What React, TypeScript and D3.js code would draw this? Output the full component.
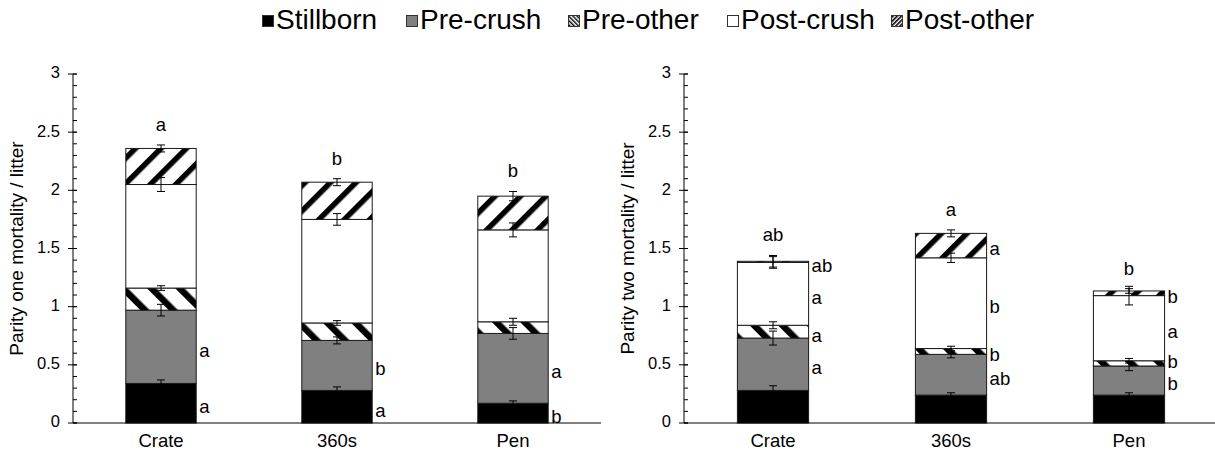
import React from "react";
import * as d3 from "d3";

// ---------- data ----------
const categories = ["Crate", "360s", "Pen"];
const seriesNames = ["Stillborn", "Pre-crush", "Pre-other", "Post-crush", "Post-other"];
const yTicks = [0, 0.5, 1, 1.5, 2, 2.5, 3];
const yTickLabels = ["0", "0.5", "1", "1.5", "2", "2.5", "3"];

// Parity one
const p1Stillborn = [0.34, 0.28, 0.17];
const p1PreCrush = [0.63, 0.43, 0.6];
const p1PreOther = [0.19, 0.15, 0.1];
const p1PostCrush = [0.89, 0.89, 0.79];
const p1PostOther = [0.31, 0.32, 0.29];
const p1StillbornErr = [0.03, 0.03, 0.02];
const p1PreCrushErr = [0.05, 0.03, 0.05];
const p1PreOtherErr = [0.02, 0.02, 0.03];
const p1PostCrushErr = [0.06, 0.05, 0.06];
const p1PostOtherErr = [0.03, 0.03, 0.04];
const p1TotalLetters = ["a", "b", "b"];
const p1StillbornLetters = ["a", "a", "b"];
const p1PreCrushLetters = ["a", "b", "a"];
const p1PreOtherLetters = ["", "", ""];
const p1PostCrushLetters = ["", "", ""];
const p1PostOtherLetters = ["", "", ""];

// Parity two
const p2Stillborn = [0.28, 0.24, 0.24];
const p2PreCrush = [0.45, 0.35, 0.25];
const p2PreOther = [0.11, 0.05, 0.045];
const p2PostCrush = [0.54, 0.78, 0.56];
const p2PostOther = [0.01, 0.21, 0.04];
const p2StillbornErr = [0.04, 0.02, 0.02];
const p2PreCrushErr = [0.06, 0.03, 0.04];
const p2PreOtherErr = [0.03, 0.02, 0.02];
const p2PostCrushErr = [0.05, 0.04, 0.08];
const p2PostOtherErr = [0.05, 0.03, 0.02];
const p2TotalLetters = ["ab", "a", "b"];
const p2StillbornLetters = ["", "", ""];
const p2PreCrushLetters = ["a", "ab", "b"];
const p2PreOtherLetters = ["a", "b", "b"];
const p2PostCrushLetters = ["a", "b", "a"];
const p2PostOtherLetters = ["ab", "a", "b"];

// ---------- styles ----------
const FONT = "'Liberation Sans', Arial, Helvetica, sans-serif";
const fills = ["#000000", "#808080", "url(#preOther)", "#ffffff", "url(#postOther)"];
const legendFills = ["#000000", "#808080", "url(#preOtherSm)", "#ffffff", "url(#postOtherSm)"];

type Panel = {
  x0: number;
  x1: number;
  title: string;
  values: number[][];
  errs: number[][];
  letters: string[][];
  totals: string[];
};

const panels: Panel[] = [
  {
    x0: 73,
    x1: 601,
    title: "Parity one mortality / litter",
    values: [p1Stillborn, p1PreCrush, p1PreOther, p1PostCrush, p1PostOther],
    errs: [p1StillbornErr, p1PreCrushErr, p1PreOtherErr, p1PostCrushErr, p1PostOtherErr],
    letters: [p1StillbornLetters, p1PreCrushLetters, p1PreOtherLetters, p1PostCrushLetters, p1PostOtherLetters],
    totals: p1TotalLetters,
  },
  {
    x0: 684,
    x1: 1218,
    title: "Parity two mortality / litter",
    values: [p2Stillborn, p2PreCrush, p2PreOther, p2PostCrush, p2PostOther],
    errs: [p2StillbornErr, p2PreCrushErr, p2PreOtherErr, p2PostCrushErr, p2PostOtherErr],
    letters: [p2StillbornLetters, p2PreCrushLetters, p2PreOtherLetters, p2PostCrushLetters, p2PostOtherLetters],
    totals: p2TotalLetters,
  },
];

const Y_TOP = 74;
const Y_BOT = 423;

function PanelView({ p }: { p: Panel }) {
  const y = d3.scaleLinear().domain([0, 3]).range([Y_BOT, Y_TOP]);
  const x = d3.scaleBand<string>().domain(categories).range([p.x0, p.x1]).paddingInner(0.6).paddingOuter(0.3);
  const bw = x.bandwidth();
  const minorTicks = d3.range(0, 31).map((i) => i / 10);

  const stack = categories.map((_, ci) => {
    let acc = 0;
    return p.values.map((s) => {
      const y0 = acc;
      acc += s[ci];
      return [y0, acc];
    });
  });

  const out: React.ReactNode[] = [];

  categories.forEach((c, ci) => {
    stack[ci].forEach(([a, b], si) => {
      out.push(
        <rect
          key={`bar-${ci}-${si}`}
          x={x(c)!}
          y={y(b)}
          width={bw}
          height={Math.max(0, y(a) - y(b))}
          fill={fills[si]}
          stroke="#1a1a1a"
          strokeWidth={1}
        />
      );
    });
  });

  categories.forEach((c, ci) => {
    const cx = x(c)! + bw / 2;
    stack[ci].forEach(([, b], si) => {
      const e = p.errs[si][ci];
      const yt = y(b + e);
      const yb = y(b - e);
      out.push(
        <g key={`err-${ci}-${si}`} stroke="#000" strokeWidth={1}>
          <line x1={cx} x2={cx} y1={yt} y2={yb} />
          <line x1={cx - 4} x2={cx + 4} y1={yt} y2={yt} />
          <line x1={cx - 4} x2={cx + 4} y1={yb} y2={yb} />
        </g>
      );
    });
  });

  categories.forEach((c, ci) => {
    const items: { t: string; py: number }[] = [];
    stack[ci].forEach(([a, b], si) => {
      const t = p.letters[si][ci];
      if (t) items.push({ t, py: y((a + b) / 2) + 5 });
    });
    for (let i = 1; i < items.length; i++) {
      if (items[i - 1].py - items[i].py < 22) items[i].py = items[i - 1].py - 22;
    }
    items.forEach((it, k) => {
      out.push(
        <text
          key={`lt-${ci}-${k}`}
          x={x(c)! + bw + 3}
          y={it.py}
          dominantBaseline="middle"
          fontSize={18.5}
          fontFamily={FONT}
        >
          {it.t}
        </text>
      );
    });
    const top = stack[ci][stack[ci].length - 1][1];
    const eTop = top + p.errs[p.errs.length - 1][ci];
    out.push(
      <text
        key={`tot-${ci}`}
        x={x(c)! + bw / 2}
        y={y(eTop) - 19}
        textAnchor="middle"
        dominantBaseline="middle"
        fontSize={18.5}
        fontFamily={FONT}
      >
        {p.totals[ci]}
      </text>
    );
  });

  return (
    <g>
      {out}
      <line x1={p.x0} x2={p.x0} y1={Y_TOP} y2={Y_BOT} stroke="#000" strokeWidth={1} />
      {minorTicks.map((t, i) => (
        <line key={`mn-${i}`} x1={p.x0} x2={p.x0 + 4} y1={y(t)} y2={y(t)} stroke="#000" strokeWidth={1} />
      ))}
      {yTicks.map((t, i) => (
        <g key={`mj-${i}`}>
          <line x1={p.x0 - 5} x2={p.x0 + 4} y1={y(t)} y2={y(t)} stroke="#000" strokeWidth={1} />
          <text
            x={p.x0 - 13}
            y={y(t)}
            textAnchor="end"
            dominantBaseline="middle"
            fontSize={16.5}
            fontFamily={FONT}
          >
            {yTickLabels[i]}
          </text>
        </g>
      ))}
      <line x1={p.x0} x2={p.x1} y1={Y_BOT} y2={Y_BOT} stroke="#000" strokeWidth={1} />
      {categories.map((c) => (
        <text
          key={`xl-${c}`}
          x={x(c)! + bw / 2}
          y={Y_BOT + 19}
          textAnchor="middle"
          dominantBaseline="middle"
          fontSize={18.5}
          fontFamily={FONT}
        >
          {c}
        </text>
      ))}
      <text
        transform={`translate(${p.x0 - 55},${(Y_TOP + Y_BOT) / 2}) rotate(-90)`}
        textAnchor="middle"
        dominantBaseline="middle"
        fontSize={19}
        fontFamily={FONT}
      >
        {p.title}
      </text>
    </g>
  );
}

const legendX = [262, 406, 568, 727, 891];

export default function App() {
  return (
    <svg
      width={1215}
      height={452}
      style={{ position: "absolute", left: 0, top: 0, background: "#fff" }}
    >
      <defs>
        <pattern id="preOther" patternUnits="userSpaceOnUse" width={20} height={20} patternTransform="rotate(-45)">
          <rect width={20} height={20} fill="#fff" />
          <rect width={6.5} height={20} fill="#000" />
        </pattern>
        <pattern id="postOther" patternUnits="userSpaceOnUse" width={18} height={18} patternTransform="rotate(45)">
          <rect width={18} height={18} fill="#fff" />
          <rect width={5.5} height={18} fill="#000" />
        </pattern>
        <pattern id="preOtherSm" patternUnits="userSpaceOnUse" width={3} height={3} patternTransform="rotate(-45)">
          <rect width={3} height={3} fill="#fff" />
          <rect width={1.4} height={3} fill="#000" />
        </pattern>
        <pattern id="postOtherSm" patternUnits="userSpaceOnUse" width={3} height={3} patternTransform="rotate(45)">
          <rect width={3} height={3} fill="#fff" />
          <rect width={1.6} height={3} fill="#000" />
        </pattern>
      </defs>
      <rect width={1215} height={452} fill="#fff" />
      {seriesNames.map((s, i) => (
        <g key={`lg-${i}`}>
          <rect x={legendX[i] + 0.5} y={15.5} width={11} height={11} fill={legendFills[i]} stroke="#333" strokeWidth={1} />
          <text x={legendX[i] + 14} y={29} fontSize={28} fontFamily={FONT}>
            {s}
          </text>
        </g>
      ))}
      {panels.map((p, i) => (
        <PanelView key={i} p={p} />
      ))}
    </svg>
  );
}
